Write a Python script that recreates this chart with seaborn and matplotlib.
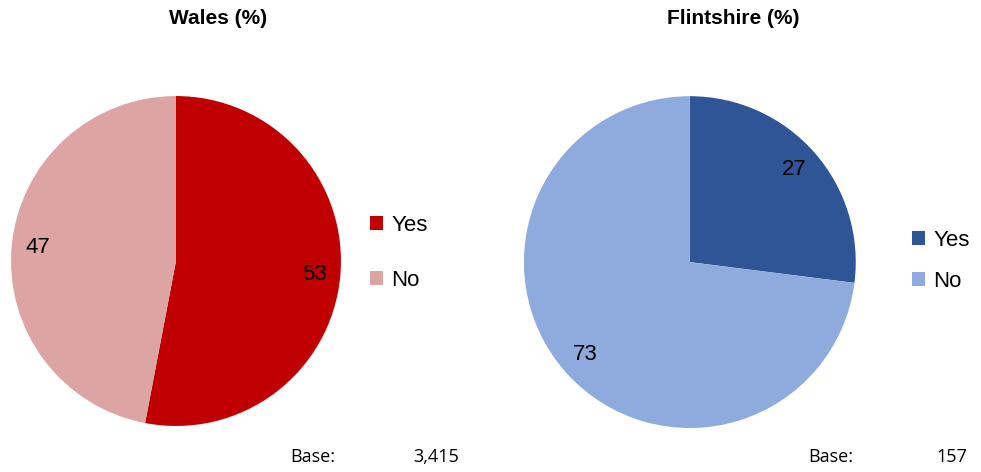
import matplotlib
matplotlib.use("Agg")
import matplotlib.pyplot as plt
import seaborn as sns
from matplotlib.patches import Patch

sns.set_theme(style="white")
plt.rcParams['font.family'] = ['Liberation Sans', 'DejaVu Sans']
plt.rcParams['text.color'] = 'black'

categories = ['Yes', 'No']
wales_values = [53, 47]
flint_values = [27, 73]
titles = ['Wales (%)', 'Flintshire (%)']
bases = ['3,415', '157']

wales_colors = ['#C00000', '#DDA4A4']
flint_colors = ['#2F5597', '#8FAADC']

fig = plt.figure(figsize=(9.81, 4.72), dpi=100)


def draw_pie(rect, values, colors):
    ax = fig.add_axes(rect)
    ax.pie(values, colors=colors, startangle=90, counterclock=False,
           labels=None, autopct=lambda p: f'{p:.0f}', pctdistance=0.84,
           textprops={'fontsize': 16, 'color': 'black'},
           wedgeprops={'linewidth': 0})
    ax.set_xlim(-1, 1)
    ax.set_ylim(-1, 1)
    ax.set_aspect('equal')
    ax.axis('off')
    return ax


ax1 = draw_pie([0.0112, 0.0975, 0.3364, 0.699], wales_values, wales_colors)
ax2 = draw_pie([0.534, 0.0932, 0.3384, 0.703], flint_values, flint_colors)

fig.text(218 / 981, 1 - 18 / 472, titles[0], ha='center', va='center',
         fontsize=15, fontweight='bold')
fig.text(733 / 981, 1 - 18 / 472, titles[1], ha='center', va='center',
         fontsize=15, fontweight='bold')


def add_legend(colors, x, y, spacing):
    handles = [Patch(facecolor=c, edgecolor='none') for c in colors]
    fig.legend(handles, categories, loc='center left',
               bbox_to_anchor=(x, y), frameon=False, fontsize=16,
               handlelength=0.6, handleheight=0.6, handletextpad=0.35,
               labelspacing=spacing, borderpad=0, borderaxespad=0)


add_legend(wales_colors, 370 / 981, 1 - 253 / 472, 1.52)
add_legend(flint_colors, 912 / 981, 1 - 261 / 472, 0.88)

for bx, vx, b in [(290, 459, bases[0]), (808, 967, bases[1])]:
    fig.text(bx / 981, 1 - 457 / 472, 'Base:', ha='left', va='center',
             fontsize=13, family=['Open Sans', 'DejaVu Sans'])
    fig.text(vx / 981, 1 - 457 / 472, b, ha='right', va='center',
             fontsize=13, family=['Open Sans', 'DejaVu Sans'])

fig.savefig('out.png', dpi=100)
